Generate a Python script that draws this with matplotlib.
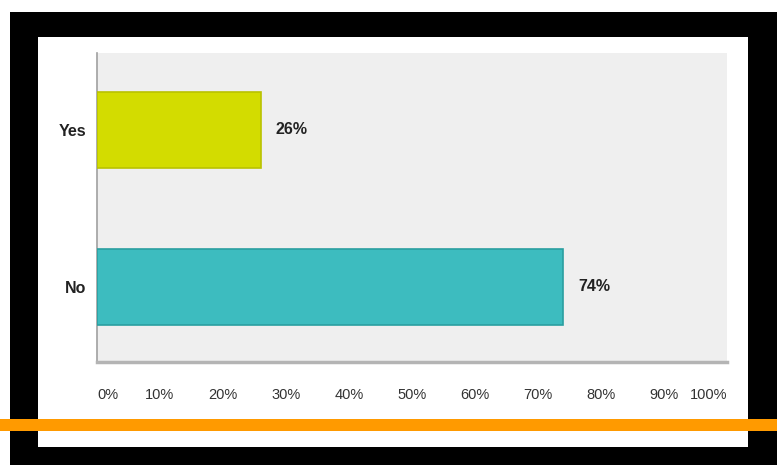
import matplotlib
matplotlib.use("Agg")
import matplotlib.pyplot as plt
from matplotlib.patches import Rectangle

categories = ["No", "Yes"]
values = [74, 26]
bar_colors = ["#3dbcbf", "#d3dc00"]
edge_colors = ["#2a9fa0", "#b9c200"]
tick_values = [0, 10, 20, 30, 40, 50, 60, 70, 80, 90, 100]
tick_labels = ["0%", "10%", "20%", "30%", "40%", "50%", "60%", "70%", "80%", "90%", "100%"]

W, H = 777, 465
fig = plt.figure(figsize=(W / 100, H / 100), dpi=100)
fig.patch.set_facecolor("white")

def px_rect(x0, y0, x1, y1, color, z):
    r = Rectangle((x0 / W, 1 - y1 / H), (x1 - x0) / W, (y1 - y0) / H,
                  transform=fig.transFigure, facecolor=color, edgecolor="none", zorder=z)
    fig.add_artist(r)

px_rect(10, 12, 777, 465, "black", -10)
px_rect(38, 37, 748, 447, "white", -9)
px_rect(0, 419, 777, 431, "#ff9a00", 10)

fam = ["Liberation Sans Narrow", "Liberation Sans", "DejaVu Sans"]

ax_l, ax_r, ax_t, ax_b = 97, 727, 53, 362
ax = fig.add_axes([ax_l / W, 1 - ax_b / H, (ax_r - ax_l) / W, (ax_b - ax_t) / H])
ax.set_facecolor("#efefef")

ypos = list(range(len(categories)))
ax.barh(ypos, values, height=0.485, color=bar_colors, edgecolor=edge_colors, linewidth=1.2, zorder=3)
for y, v in zip(ypos, values):
    ax.text(v + 2.4, y, f"{v}%", va="center", ha="left", fontsize=11.5,
            fontweight="bold", family=fam, color="#222222")

ax.set_xlim(0, 100)
ax.set_ylim(-0.478, 1.49)
ax.set_yticks(ypos)
ax.set_yticklabels(categories, fontsize=11.5, fontweight="bold", family=fam, color="#222222")
ax.set_xticks(tick_values)
ax.set_xticklabels(tick_labels, fontsize=10.5, family=fam, color="#333333")
lbls = ax.get_xticklabels()
lbls[0].set_ha("left")
lbls[-1].set_ha("right")
ax.tick_params(axis="x", length=0, pad=19)
ax.tick_params(axis="y", length=0, pad=8)

for s in ["top", "right"]:
    ax.spines[s].set_visible(False)
ax.spines["left"].set_color("#a0a0a0")
ax.spines["left"].set_linewidth(1.2)
ax.spines["bottom"].set_color("#b4b4b4")
ax.spines["bottom"].set_linewidth(2.5)

fig.savefig("out.png", dpi=100)
